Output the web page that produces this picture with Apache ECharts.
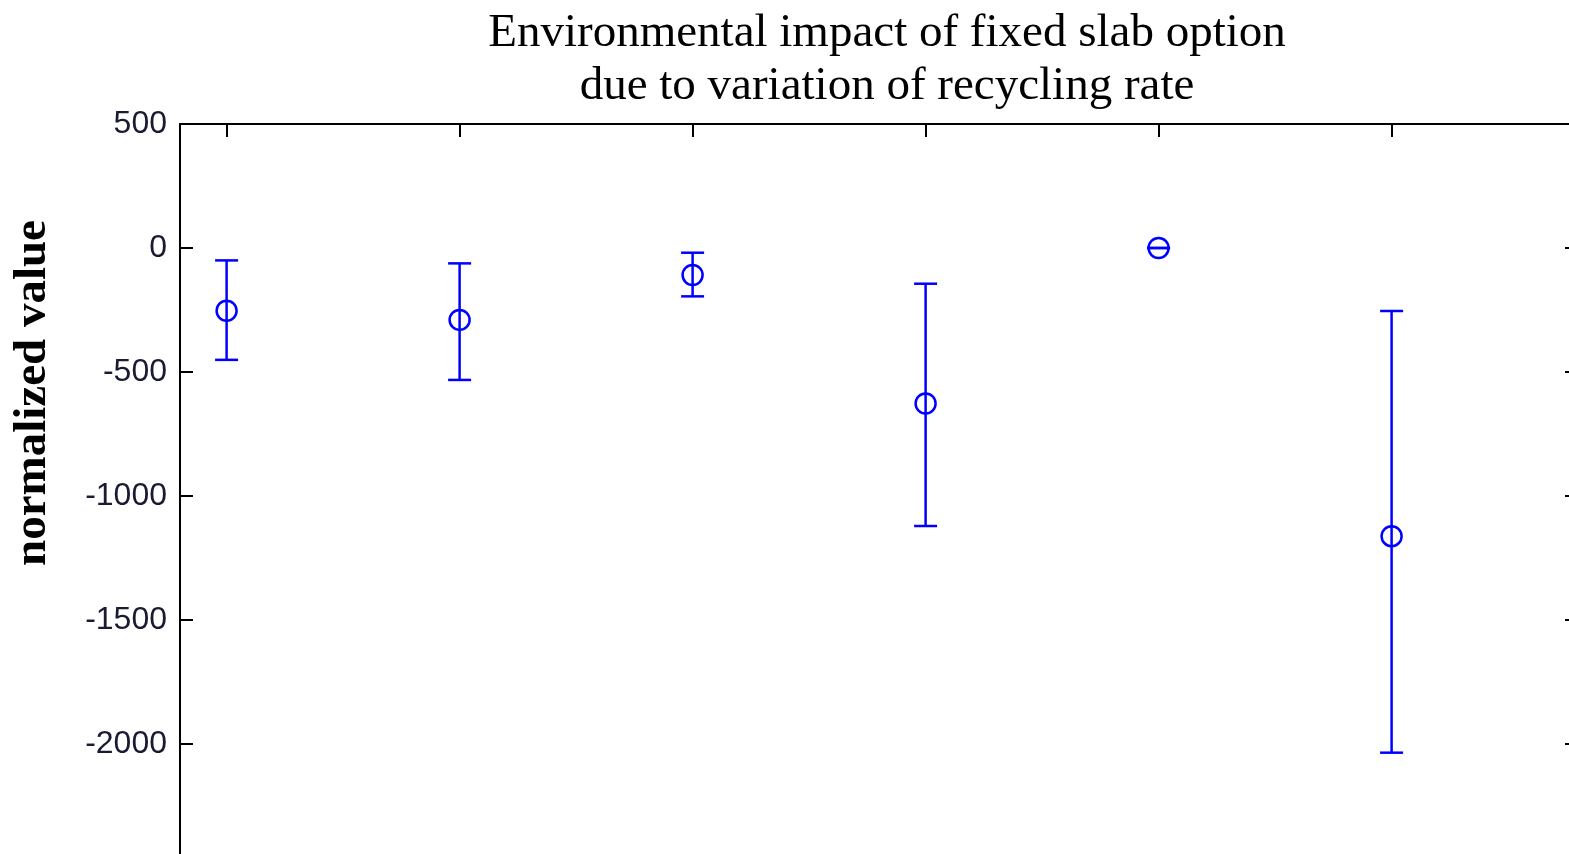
<!DOCTYPE html>
<html>
<head>
<meta charset="utf-8">
<script src="https://cdn.jsdelivr.net/npm/echarts@6/dist/echarts.min.js"></script>
<style>
html,body{margin:0;padding:0;background:#fff;}
#chart{width:1569px;height:854px;}
</style>
</head>
<body>
<div id="chart"></div>
<script>
// Data
var xPositions = [1, 2, 3, 4, 5, 6];
var meanValues = [-253, -290, -109, -627, 0, -1162];
var lowerValues = [-451, -532, -195, -1121, 0, -2035];
var upperValues = [-50, -62, -19, -144, 0, -254];
var yTicks = [500, 0, -500, -1000, -1500, -2000, -2500];
var titleLines = ['Environmental impact of fixed slab option', 'due to variation of recycling rate'];
var yName = 'normalized value';

var seriesData = xPositions.map(function (x, i) {
  return [x, meanValues[i], lowerValues[i], upperValues[i]];
});

var chart = echarts.init(document.getElementById('chart'));
var blue = '#0000ff';
var axisCommon = {
  type: 'value',
  min: 0.8,
  max: 6.8,
  axisLine: { show: true, onZero: false, lineStyle: { color: '#000', width: 2 } },
  axisTick: { show: true, inside: true, length: 13, lineStyle: { color: '#000', width: 2 }, customValues: xPositions },
  axisLabel: { show: false },
  splitLine: { show: false }
};
var yCommon = {
  type: 'value',
  min: -2500,
  max: 500,
  interval: 500,
  axisLine: { show: true, onZero: false, lineStyle: { color: '#000', width: 2 } },
  axisTick: { show: true, inside: true, length: 13, lineStyle: { color: '#000', width: 2 } },
  splitLine: { show: false }
};

chart.setOption({
  animation: false,
  backgroundColor: '#fff',
  title: {
    text: titleLines.join('\n'),
    left: 882,
    top: 2,
    textAlign: 'center',
    textStyle: {
      fontFamily: 'Liberation Serif',
      fontSize: 47,
      fontWeight: 'normal',
      color: '#000',
      lineHeight: 53
    }
  },
  grid: { left: 180, top: 124, width: 1398, height: 744, containLabel: false, outerBoundsMode: 'none' },
  xAxis: [
    Object.assign({}, axisCommon, { position: 'bottom' }),
    Object.assign({}, axisCommon, { position: 'top' })
  ],
  yAxis: [
    Object.assign({}, yCommon, {
      position: 'left',
      axisLabel: {
        show: true,
        margin: 13,
        fontFamily: 'Liberation Sans',
        fontSize: 32,
        color: '#1a1a33',
        formatter: function (v) { return yTicks.indexOf(v) >= 0 ? String(v) : ''; }
      }
    }),
    Object.assign({}, yCommon, { position: 'right', axisLabel: { show: false } })
  ],
  graphic: [{
    type: 'text',
    x: 33,
    y: 393,
    rotation: Math.PI / 2,
    style: {
      text: yName,
      fontFamily: 'Liberation Serif',
      fontSize: 47,
      fontWeight: 'bold',
      fill: '#000',
      align: 'center',
      verticalAlign: 'middle'
    }
  }],
  series: [{
    type: 'custom',
    xAxisIndex: 0,
    yAxisIndex: 0,
    data: seriesData,
    encode: { x: 0, y: [1, 2, 3] },
    clip: false,
    renderItem: function (params, api) {
      var x = api.value(0);
      var pm = api.coord([x, api.value(1)]);
      var pl = api.coord([x, api.value(2)]);
      var pu = api.coord([x, api.value(3)]);
      var hw = 11.5;
      var st = { stroke: blue, lineWidth: 2.5, fill: null };
      return {
        type: 'group',
        children: [
          { type: 'line', shape: { x1: pu[0], y1: pu[1], x2: pl[0], y2: pl[1] }, style: st },
          { type: 'line', shape: { x1: pu[0] - hw, y1: pu[1], x2: pu[0] + hw, y2: pu[1] }, style: st },
          { type: 'line', shape: { x1: pl[0] - hw, y1: pl[1], x2: pl[0] + hw, y2: pl[1] }, style: st },
          { type: 'circle', shape: { cx: pm[0], cy: pm[1], r: 10 }, style: { stroke: blue, lineWidth: 2.5, fill: 'none' } }
        ]
      };
    }
  }]
});
</script>
</body>
</html>
